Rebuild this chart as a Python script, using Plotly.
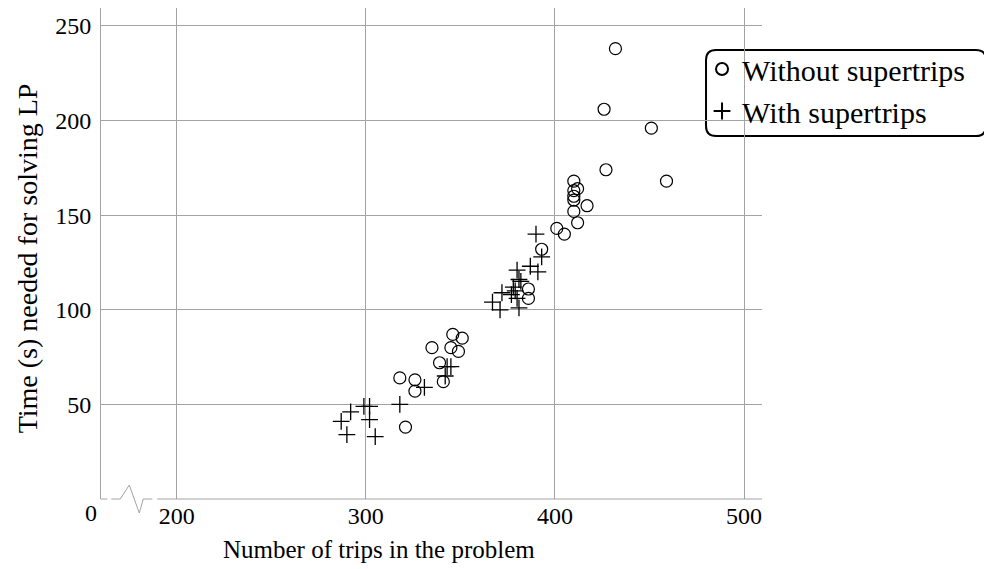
import plotly.graph_objects as go

# ---- data ----
without_x = [432, 426, 451, 427, 459, 410, 410, 412, 410, 410, 410, 417, 412, 401, 405, 393,
             386, 386, 351, 346, 345, 349, 335, 339, 341, 318, 326, 326, 321]
without_y = [238, 206, 196, 174, 168, 168, 163, 164, 160, 158, 152, 155, 146, 143, 140, 132,
             111, 106, 85, 87, 80, 78, 80, 72, 62, 64, 63, 57, 38]

with_x = [390, 393, 387, 391, 380, 381, 382, 378, 379, 377, 380, 372, 367, 371, 381,
          343, 345, 342, 331, 318, 299, 302, 292, 287, 302, 290, 305]
with_y = [140, 128, 123, 120, 121, 116, 115, 112, 110, 108, 106, 109, 104, 100, 101,
          70, 70, 65, 59, 50, 49, 49, 46, 41, 42, 34, 33]

x_tickvals = [200, 300, 400, 500]
x_ticktext = ["200", "300", "400", "500"]
x_break_label = "0"
y_tickvals = [50, 100, 150, 200, 250]
y_ticktext = ["50", "100", "150", "200", "250"]

series_names = ["Without supertrips", "With supertrips"]
x_title = "Number of trips in the problem"
y_title = "Time (s) needed for solving LP"

# ---- layout geometry (page pixels; page body has an 8px margin) ----
W, H = 992, 569
OFF = 8
L, R, T, B = 100.7, 762.0, 8.0, 499.0
PW, PH = R - L, B - T
GRID = "#a3a3a3"
FONT = "Liberation Serif"


def px(xp):
    return (xp - L) / PW


def py(yp):
    return (B - yp) / PH


fig = go.Figure()
fig.add_trace(go.Scatter(
    x=without_x, y=without_y, mode="markers", name=series_names[0],
    marker=dict(symbol="circle-open", size=12, color="black", line=dict(width=1.2, color="black")),
))
fig.add_trace(go.Scatter(
    x=with_x, y=with_y, mode="markers", name=series_names[1],
    marker=dict(symbol="cross-thin-open", size=12, color="black", line=dict(width=1.3, color="black")),
))

# axis break drawn on bottom line
segs = [((L, B), (107, B)), ((111, B), (120, B)), ((143, B), (152, B)), ((157, B), (R, B))]
for (a, b) in segs:
    fig.add_shape(type="line", xref="paper", yref="paper",
                  x0=px(a[0]), y0=py(a[1]), x1=px(b[0]), y1=py(b[1]),
                  line=dict(color=GRID, width=1))
zig = [(120, B), (129, 485), (139, 513), (143, B)]
path = "M " + " L ".join(f"{px(x):.5f},{py(y):.5f}" for x, y in zig)
fig.add_shape(type="path", xref="paper", yref="paper", path=path,
              line=dict(color=GRID, width=1))

# legend box (rounded)
bx0, by0, bx1, by1, rr = 706, 50, 986, 136, 10


def P(x, y):
    return f"{px(x):.5f},{py(y):.5f}"


legend_path = (f"M {P(bx0+rr, by0)} L {P(bx1-rr, by0)} Q {P(bx1, by0)} {P(bx1, by0+rr)} "
               f"L {P(bx1, by1-rr)} Q {P(bx1, by1)} {P(bx1-rr, by1)} "
               f"L {P(bx0+rr, by1)} Q {P(bx0, by1)} {P(bx0, by1-rr)} "
               f"L {P(bx0, by0+rr)} Q {P(bx0, by0)} {P(bx0+rr, by0)} Z")
fig.add_shape(type="path", xref="paper", yref="paper", path=legend_path,
              line=dict(color="black", width=2), fillcolor="white", layer="below")

fig.add_annotation(text=x_break_label, xref="paper", yref="paper", x=px(91), y=py(513),
                   xanchor="center", yanchor="middle", showarrow=False,
                   font=dict(family=FONT, size=24, color="black"))
fig.add_annotation(text=x_title, xref="paper", yref="paper", x=px(379), y=py(549),
                   xanchor="center", yanchor="middle",
                   showarrow=False, font=dict(family=FONT, size=25, color="black"))
fig.add_annotation(text=y_title, xref="paper", yref="paper", x=px(27), y=py(258),
                   xanchor="center", yanchor="middle",
                   textangle=-90, showarrow=False, font=dict(family=FONT, size=28, color="black"))

fig.update_layout(
    width=W - OFF, height=H - OFF,
    margin=dict(l=L - OFF, r=W - R, t=T - OFF, b=H - B, autoexpand=False),
    plot_bgcolor="white", paper_bgcolor="white",
    font=dict(family=FONT, size=24, color="black"),
    showlegend=True,
    legend=dict(x=px(702), y=py(43), xanchor="left", yanchor="top",
                bgcolor="rgba(0,0,0,0)", borderwidth=0,
                font=dict(family=FONT, size=30, color="black"),
                itemsizing="constant", tracegroupgap=0, itemwidth=30),
    xaxis=dict(range=[160, 509.5], tickvals=x_tickvals, ticktext=x_ticktext,
               showgrid=True, gridcolor=GRID, gridwidth=1, showline=False,
               zeroline=False, ticks="", tickfont=dict(family=FONT, size=24)),
    yaxis=dict(range=[0, 259.5], tickvals=y_tickvals, ticktext=y_ticktext,
               showgrid=True, gridcolor=GRID, gridwidth=1, showline=True, linecolor=GRID,
               linewidth=1, zeroline=False, ticks="", ticklabelstandoff=4,
               tickfont=dict(family=FONT, size=24)),
)

fig.write_html("out.html")
